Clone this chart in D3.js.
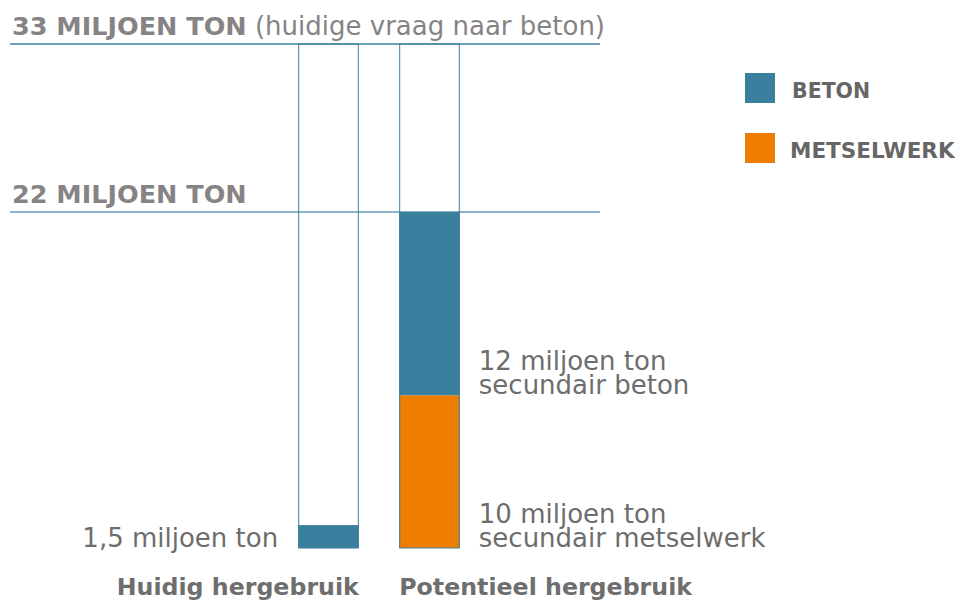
<!DOCTYPE html>
<html>
<head>
<meta charset="utf-8">
<script src="https://cdn.jsdelivr.net/npm/d3@7"></script>
<style>
  body { margin: 0; background: #fff; }
  text { font-family: "DejaVu Sans", sans-serif; }
</style>
</head>
<body>
<svg id="drawing_region"></svg>
<script>
// data
const categories = ['Huidig hergebruik', 'Potentieel hergebruik'];
const beton = [1.5, 12];
const metselwerk = [0, 10];
const capacity = [33, 33];
const refValues = [33, 22];
const refLabels = ['33 MILJOEN TON', '22 MILJOEN TON'];
const refNotes = [' (huidige vraag naar beton)', ''];
const segLabels = [
  { bar: 0, key: 'beton', lines: ['1,5 miljoen ton'] },
  { bar: 1, key: 'beton', lines: ['12 miljoen ton', 'secundair beton'] },
  { bar: 1, key: 'metselwerk', lines: ['10 miljoen ton', 'secundair metselwerk'] }
];
const legendKeys = ['beton', 'metselwerk'];
const legendLabels = ['BETON', 'METSELWERK'];

const colors = { beton: '#3b7f9e', metselwerk: '#ef7d00' };
const blue = '#3b7f9e';

const width = 957, height = 604;
const svg = d3.select('#drawing_region').attr('width', width).attr('height', height);

const rows = categories.map((c, i) => ({ cat: c, beton: beton[i], metselwerk: metselwerk[i], cap: capacity[i] }));

const xscale = d3.scaleBand().domain(categories).range([278, 480]).paddingInner(0.4).paddingOuter(0.2);
const yscale = d3.scaleLinear().domain([0, 33]).range([548, 44]);

// reference lines
const ref = svg.append('g').selectAll('g').data(refValues).join('g');
ref.append('line')
  .attr('x1', 10).attr('x2', 600)
  .attr('y1', d => yscale(d)).attr('y2', d => yscale(d))
  .attr('stroke', (d, i) => i === 0 ? '#3b82a0' : '#8ab5c8')
  .attr('stroke-width', (d, i) => i === 0 ? 1.5 : 2);
const refText = ref.append('text')
  .attr('x', 12).attr('y', d => yscale(d) - 9)
  .attr('font-size', 25.5).attr('fill', '#878384');
refText.append('tspan').attr('font-weight', 'bold').text((d, i) => refLabels[i]);
refText.append('tspan').attr('font-size', 26).text((d, i) => refNotes[i]);

// stacked bars (metselwerk at bottom)
const stack = d3.stack().keys(['metselwerk', 'beton'])(rows);
svg.append('g').selectAll('g').data(stack).join('g')
  .attr('fill', d => colors[d.key])
  .selectAll('rect').data(d => d).join('rect')
  .attr('x', d => xscale(d.data.cat))
  .attr('width', xscale.bandwidth())
  .attr('y', d => yscale(d[1]))
  .attr('height', d => yscale(d[0]) - yscale(d[1]));

// bar outlines up to capacity
svg.append('g').selectAll('rect').data(rows).join('rect')
  .attr('x', d => xscale(d.cat) + 0.5)
  .attr('width', xscale.bandwidth() - 1)
  .attr('y', d => yscale(d.cap))
  .attr('height', d => yscale(0) - yscale(d.cap))
  .attr('fill', 'none')
  .attr('stroke', blue)
  .attr('stroke-width', 1);

// segment labels, anchored at the bottom of each segment
const segBottom = (bar, key) => {
  const layer = stack.find(s => s.key === key);
  return yscale(layer[bar][0]);
};
svg.append('g').selectAll('text').data(segLabels).join('text')
  .attr('font-size', 26).attr('fill', '#6d6d6d')
  .attr('text-anchor', d => d.bar === 0 ? 'end' : 'start')
  .attr('x', d => d.bar === 0 ? xscale(categories[0]) - 20 : xscale(categories[1]) + xscale.bandwidth() + 19)
  .attr('y', d => segBottom(d.bar, d.key) - 1 - (d.lines.length - 1) * 24.5)
  .each(function(d) {
    const x = d3.select(this).attr('x');
    d3.select(this).selectAll('tspan').data(d.lines).join('tspan')
      .attr('x', x)
      .attr('dy', (l, i) => i === 0 ? 0 : 24.5)
      .text(l => l);
  });

// category labels
svg.append('g').selectAll('text').data(categories).join('text')
  .attr('x', (d, i) => i === 0 ? xscale(d) + xscale.bandwidth() : xscale(d))
  .attr('y', 595)
  .attr('text-anchor', (d, i) => i === 0 ? 'end' : 'start')
  .attr('font-size', 23.7).attr('font-weight', 'bold').attr('fill', '#6e6e6e')
  .text(d => d);

// legend
const legend = svg.append('g').selectAll('g').data(legendKeys).join('g')
  .attr('transform', (d, i) => `translate(745, ${73 + i * 60})`);
legend.append('rect').attr('width', 30).attr('height', 30).attr('fill', d => colors[d]);
legend.append('text')
  .attr('x', (d, i) => i === 0 ? 47 : 45).attr('y', 25)
  .attr('font-size', (d, i) => i === 0 ? 20.5 : 21.5).attr('font-weight', 'bold').attr('fill', '#666')
  .text((d, i) => legendLabels[i]);
</script>
</body>
</html>
